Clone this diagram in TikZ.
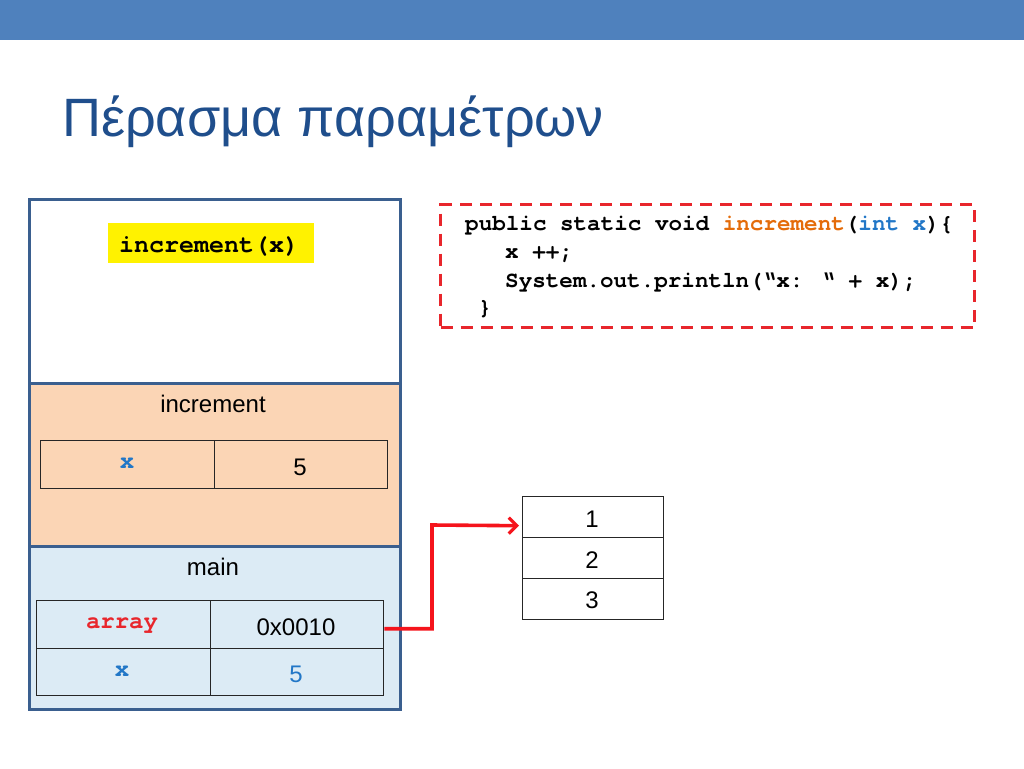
\documentclass[tikz,border=0pt]{standalone}
\usepackage{fontspec}
\setmainfont{Liberation Sans}
\newfontfamily\cursorfont{TeX Gyre Cursor}
\usetikzlibrary{arrows.meta,calc}
\definecolor{topbar}{HTML}{4F81BD}
\definecolor{titleblue}{HTML}{1F4E8C}
\definecolor{frameblue}{HTML}{3A5F8F}
\definecolor{peach}{HTML}{FBD5B5}
\definecolor{lightblue}{HTML}{DCEBF5}
\definecolor{codered}{HTML}{E8262C}
\definecolor{codeorange}{HTML}{E46C0A}
\definecolor{codeblue}{HTML}{2277C7}
\definecolor{ptrred}{HTML}{F5141C}
\tikzset{
  section/.style={draw=frameblue,line width=3pt,anchor=north west,inner sep=0pt,minimum width=371pt},
  cell/.style={draw=black!85,line width=1.4pt,anchor=north west,inner sep=0pt},
  lbl/.style={anchor=base,inner sep=0pt,font=\fontsize{24}{28}\selectfont},
  monolbl/.style={anchor=base,inner sep=0pt,font=\fontsize{24}{28}\selectfont\cursorfont\bfseries},
  codeline/.style={anchor=base west,inner sep=0pt,font=\fontsize{22.6}{26}\selectfont\cursorfont\bfseries},
  ptr/.style={draw=ptrred,line width=3.6pt,-{Straight Barb[length=8pt,width=16pt,line width=3.2pt]}}
}
\begin{document}
\begin{tikzpicture}[x=1pt,y=-1pt]
\useasboundingbox (0,0) rectangle (1024,768);
% top bar
\fill[topbar] (0,0) rectangle (1024,40);
% title
\node[anchor=base west,inner sep=0pt,text=titleblue,font=\fontsize{54}{60}\selectfont] (title) at (62,136) {Πέρασμα παραμέτρων};
% stack sections
\node[section,fill=white,minimum height=184pt] (s1) at (28,198) {};
\node[section,fill=peach,minimum height=163pt] (s2) at (28,382) {};
\node[section,fill=lightblue,minimum height=163pt] (s3) at (28,545) {};
% yellow call label
\node[fill=yellow,anchor=north west,minimum width=206pt,minimum height=40pt,inner sep=0pt] (call) at (108,223) {};
\node[anchor=base,inner sep=0pt,font=\fontsize{25}{28}\selectfont\cursorfont\bfseries] (calltxt) at (209,252) {increment(x)};
% increment frame
\node[lbl] (inclbl) at (213,412) {increment};
\node[cell,minimum width=174pt,minimum height=48pt] (ix) at (40,440) {};
\node[cell,minimum width=173pt,minimum height=48pt] (iv) at (214,440) {};
\node[monolbl,text=codeblue] at (127,468) {x};
\node[lbl] at (300,475) {5};
% main frame
\node[lbl] (mainlbl) at (213,575) {main};
\node[cell,minimum width=174pt,minimum height=48pt] (arrname) at (36,600) {};
\node[cell,minimum width=173pt,minimum height=48pt] (arrval) at (210,600) {};
\node[cell,minimum width=174pt,minimum height=47pt] (xname) at (36,648) {};
\node[cell,minimum width=173pt,minimum height=47pt] (xval) at (210,648) {};
\node[monolbl,text=codered] at (122,628) {array};
\node[lbl] at (296,635) {0x0010};
\node[monolbl,text=codeblue] at (122,676) {x};
\node[lbl,text=codeblue] at (296,682) {5};
% array on the heap
\node[cell,minimum width=141pt,minimum height=41pt] (a1) at (522,496) {};
\node[cell,minimum width=141pt,minimum height=41pt] (a2) at (522,537) {};
\node[cell,minimum width=141pt,minimum height=41pt] (a3) at (522,578) {};
\node[lbl] at (592,527) {1};
\node[lbl] at (592,568) {2};
\node[lbl] at (592,608) {3};
% pointer
\coordinate (bend) at (432,525);
\draw[ptr] ([yshift=-4pt]arrval.east) -| (bend) -- ([yshift=-8.5pt,xshift=-3pt]a1.west);
% code box
\node[draw=codered,line width=3pt,dash pattern=on 12pt off 8pt,anchor=north west,minimum width=534pt,minimum height=123pt,inner sep=0pt] (code) at (439,203) {};
\node[codeline] at (465,230) {public static void \textcolor{codeorange}{increment}(\textcolor{codeblue}{int x})\{};
\node[codeline] at (505,258) {x ++;};
\node[codeline] at (505,287) {System.out.println(“x: “ + x);};
\node[codeline] at (478,314) {\}};
\end{tikzpicture}
\end{document}
